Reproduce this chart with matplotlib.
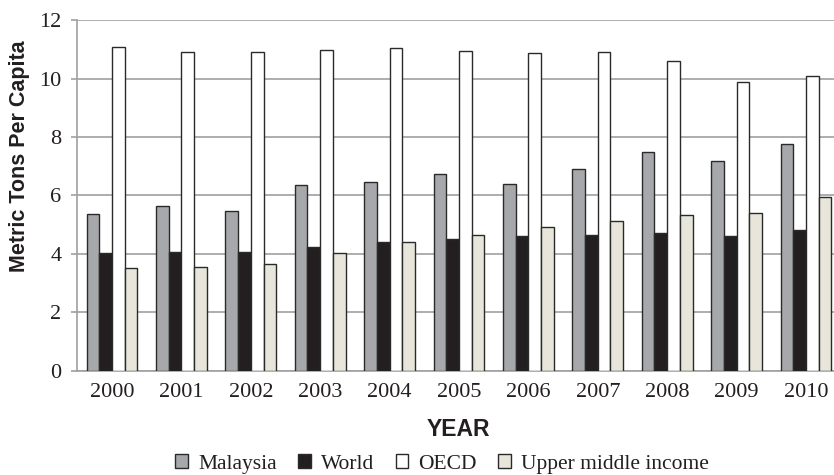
import numpy as np
import matplotlib
matplotlib.use("Agg")
import matplotlib.pyplot as plt

years = ["2000", "2001", "2002", "2003", "2004", "2005",
         "2006", "2007", "2008", "2009", "2010"]
malaysia = [5.35, 5.65, 5.47, 6.36, 6.46, 6.75, 6.38, 6.91, 7.49, 7.17, 7.77]
world = [4.02, 4.06, 4.06, 4.23, 4.41, 4.51, 4.61, 4.64, 4.71, 4.61, 4.81]
oecd = [11.07, 10.93, 10.90, 10.99, 11.05, 10.96, 10.87, 10.90, 10.61, 9.88, 10.10]
upper_mid = [3.52, 3.56, 3.64, 4.04, 4.42, 4.65, 4.93, 5.13, 5.32, 5.39, 5.94]

series = [("Malaysia", malaysia, "#a7a8ab"),
          ("World", world, "#231f20"),
          ("OECD", oecd, "#ffffff"),
          ("Upper middle income", upper_mid, "#e8e6da")]

serif = ["Liberation Serif", "DejaVu Serif"]
sans = ["Liberation Sans", "DejaVu Sans"]

fig = plt.figure(figsize=(8.34, 4.75), dpi=100)
# right edge of the axes falls just outside the figure, like the cropped original
ax = fig.add_axes([0.0927, 0.22, 0.9153, 0.7373])

x = np.arange(len(years))
w = 0.183
for i, (name, vals, col) in enumerate(series):
    ax.bar(x + (i - 1.5) * w, vals, w, color=col, edgecolor="#2a2a2a",
           linewidth=1.0, label=name, zorder=3)

ax.set_xlim(-0.5, len(years) - 0.5)
ax.set_ylim(0, 12)
ax.set_yticks(range(0, 13, 2))
ax.set_xticks(x)
ax.set_xticklabels(years)

ax.yaxis.grid(True, color="#a0a0a0", linewidth=1.2, zorder=0)
ax.set_axisbelow(True)
for s in ["top", "right"]:
    ax.spines[s].set_visible(False)
for s in ["left", "bottom"]:
    ax.spines[s].set_color("#a0a0a0")
    ax.spines[s].set_linewidth(1.2)

ax.tick_params(axis="y", length=4.5, width=1.2, color="#a0a0a0", pad=7)
ax.tick_params(axis="x", length=0, pad=9)
for lab in ax.get_xticklabels() + ax.get_yticklabels():
    lab.set_fontfamily(serif)
    lab.set_fontsize(16)
    lab.set_color("#231f20")

ax.set_ylabel("Metric Tons Per Capita", fontfamily=sans, fontsize=15.5,
              fontweight="bold", color="#231f20")
ax.yaxis.set_label_coords(-0.062, 0.6125)
ax.set_xlabel("YEAR", fontfamily=sans, fontsize=16.5, fontweight="bold",
              color="#231f20")
ax.xaxis.set_label_coords((458 - 77.3) / 763.4, -0.135)

leg = fig.legend(loc="center", bbox_to_anchor=(442 / 834, 1 - 464 / 475),
                 ncol=4, frameon=False, handlelength=0.6, handleheight=0.6,
                 handletextpad=0.45, columnspacing=1.0,
                 prop={"family": serif, "size": 15.5})
for t in leg.get_texts():
    t.set_color("#231f20")

fig.savefig("out.png", dpi=100)
